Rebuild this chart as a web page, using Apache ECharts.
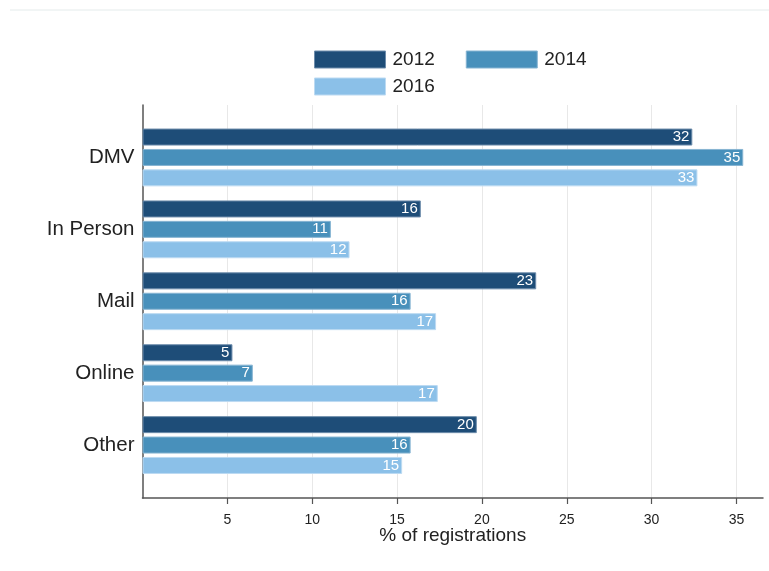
<!DOCTYPE html>
<html>
<head>
<meta charset="utf-8">
<script src="https://cdn.jsdelivr.net/npm/echarts@6/dist/echarts.min.js"></script>
<style>html,body{margin:0;padding:0;background:#fff;}#c{width:769px;height:571px;}</style>
</head>
<body>
<div id="c"></div>
<script>
const categories = ['DMV', 'In Person', 'Mail', 'Online', 'Other'];
const seriesNames = ['2012', '2014', '2016'];
const values2012 = [32.4, 16.4, 23.2, 5.3, 19.7];
const values2014 = [35.4, 11.1, 15.8, 6.5, 15.8];
const values2016 = [32.7, 12.2, 17.3, 17.4, 15.3];
const tickValues = [5, 10, 15, 20, 25, 30, 35];
const axisTitle = '% of registrations';

const FONT = 'Liberation Sans, Arial, sans-serif';
const colors = ['#1e4d78', '#4890bb', '#8bc0e8'];
const borders = ['#6d8cab', '#86b4d2', '#bcdaf2'];
const L = 142.5, R = -52.3;

const chart = echarts.init(document.getElementById('c'));
const mk = (name, data, i) => ({
  name: name, type: 'bar', xAxisIndex: 2, yAxisIndex: 2, data: data,
  barWidth: 17, barGap: '20%',
  itemStyle: {color: colors[i], borderColor: borders[i], borderWidth: 1},
  label: {show: true, position: 'insideRight', distance: 3, color: '#fff',
          fontSize: 15, fontFamily: FONT,
          formatter: p => String(Math.round(p.value))},
  emphasis: {disabled: true}
});
const legendCommon = {
  icon: 'rect', itemWidth: 71, itemHeight: 17, itemGap: 31,
  textStyle: {fontSize: 19, fontFamily: FONT, color: '#222', padding: [0,0,0,2]},
  itemStyle: {borderWidth: 1},
  selectedMode: false
};
const gridCommon = {outerBoundsMode: 'none', containLabel: false};
chart.setOption({
  animation: false,
  backgroundColor: '#fff',
  graphic: [{type: 'line', shape: {x1: 10, y1: 10, x2: 769, y2: 10},
             style: {stroke: '#e4ebeb', lineWidth: 1}, silent: true}],
  legend: [
    Object.assign({left: 309, top: 45, data: [
      {name: seriesNames[0], itemStyle: {borderColor: borders[0]}},
      {name: seriesNames[1], itemStyle: {borderColor: borders[1]}}]}, legendCommon),
    Object.assign({left: 309, top: 72, data: [
      {name: seriesNames[2], itemStyle: {borderColor: borders[2]}}]}, legendCommon)
  ],
  grid: [
    Object.assign({left: L, right: 6, top: 105, bottom: 73}, gridCommon),
    Object.assign({left: L, right: R, top: 105, bottom: 73}, gridCommon),
    Object.assign({left: L, right: R, top: 121.5, bottom: 90}, gridCommon)
  ],
  xAxis: [
    {gridIndex: 0, type: 'value', min: 0, max: 1,
     axisLine: {show: true, onZero: false, lineStyle: {color: '#555', width: 1.5}},
     axisTick: {show: false}, axisLabel: {show: false}, splitLine: {show: false},
     name: axisTitle, nameLocation: 'middle', nameGap: 28,
     nameTextStyle: {fontSize: 19, fontFamily: FONT, color: '#222'}},
    {gridIndex: 1, type: 'value', min: 0, max: 40, interval: 5,
     axisLine: {show: false},
     axisTick: {show: true, length: 6, customValues: tickValues,
                lineStyle: {color: '#555', width: 1.2}},
     axisLabel: {fontSize: 14, fontFamily: FONT, color: '#222', margin: 15,
                 customValues: tickValues},
     splitLine: {show: true, lineStyle: {color: '#e8e8e8', width: 1}}},
    {gridIndex: 2, type: 'value', min: 0, max: 40, show: false}
  ],
  yAxis: [
    {gridIndex: 0, type: 'value', min: 0, max: 1,
     axisLine: {show: true, lineStyle: {color: '#555', width: 1.5}},
     axisTick: {show: false}, axisLabel: {show: false}, splitLine: {show: false}},
    {gridIndex: 1, type: 'value', min: 0, max: 1, show: false},
    {gridIndex: 2, type: 'category', data: categories, inverse: true,
     axisLine: {show: false}, axisTick: {show: false},
     axisLabel: {fontSize: 20.5, fontFamily: FONT, color: '#222', margin: 8}}
  ],
  series: [
    mk(seriesNames[0], values2012, 0),
    mk(seriesNames[1], values2014, 1),
    mk(seriesNames[2], values2016, 2)
  ]
});
</script>
</body>
</html>
